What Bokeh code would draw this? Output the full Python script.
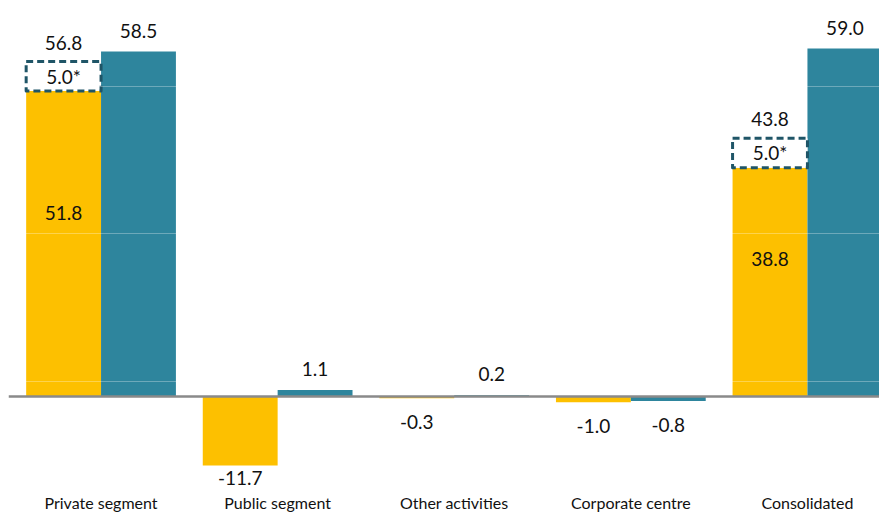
from bokeh.plotting import figure
from bokeh.models import ColumnDataSource, Span, FixedTicker
from bokeh.core.properties import value
from bokeh.embed import file_html
from bokeh.resources import INLINE

categories = ["Private segment", "Public segment", "Other activities", "Corporate centre", "Consolidated"]
series_yellow = [51.8, -11.7, -0.3, -1.0, 38.8]
series_teal = [58.5, 1.1, 0.2, -0.8, 59.0]
adjustment = [5.0, 0.0, 0.0, 0.0, 5.0]
grid_values = [2.6, 27.6, 52.6]

YELLOW = "#FDC000"
TEAL = "#2E859D"
DARK = "#1F5567"
FONT = "Lato"
TXT = "#111111"

xs = list(range(len(categories)))
bw = 0.424
off = bw / 2

p = figure(frame_width=871, frame_height=484, output_backend="svg", toolbar_location=None,
           x_range=(-0.524, 4.408), y_range=(-16.3, 65.8),
           min_border_left=8, min_border_right=0, min_border_top=8, min_border_bottom=0)
p.outline_line_color = None
p.yaxis.visible = False
p.xgrid.visible = False
p.ygrid.ticker = FixedTicker(ticks=grid_values)
p.ygrid.grid_line_color = "white"
p.ygrid.grid_line_alpha = 0.3
p.ygrid.level = "overlay"

xa = p.xaxis[0]
xa.ticker = FixedTicker(ticks=xs)
xa.major_label_overrides = {i: c for i, c in enumerate(categories)}
xa.axis_line_color = None
xa.major_tick_line_color = None
xa.minor_tick_line_color = None
xa.major_tick_out = 0
xa.major_tick_in = 0
xa.major_label_standoff = 0
xa.major_label_text_font = FONT
xa.major_label_text_font_size = "16px"
xa.major_label_text_color = TXT

# bars
ysrc = ColumnDataSource(dict(x=[x - off for x in xs], top=series_yellow))
tsrc = ColumnDataSource(dict(x=[x + off for x in xs], top=series_teal))
p.vbar(x="x", top="top", bottom=0, width=bw, source=ysrc, fill_color=YELLOW, line_color=None)
p.vbar(x="x", top="top", bottom=0, width=bw, source=tsrc, fill_color=TEAL, line_color=None)

# dashed adjustment boxes
bx, bb, bt, btxt = [], [], [], []
for i, (a, adj) in enumerate(zip(series_yellow, adjustment)):
    if adj > 0:
        bx.append(i - off); bb.append(a); bt.append(a + adj); btxt.append(f"{adj:.1f}*")
bsrc = ColumnDataSource(dict(x=bx, bottom=bb, top=bt, y=[(b + t) / 2 for b, t in zip(bb, bt)], text=btxt))
p.vbar(x="x", top="top", bottom="bottom", width=bw, source=bsrc, fill_color="white",
       line_color=DARK, line_width=3, line_dash="7 4", line_join="round")
p.text(x="x", y="y", text="text", source=bsrc, text_align="center", text_baseline="middle",
       text_font=value(FONT), text_font_size="19px", text_color=TXT)

# zero line
p.add_layout(Span(location=0, dimension="width", line_color="#8A8A8A", line_width=2.5))

# value labels
lx, ly, lt, lo = [], [], [], []
inx, iny, intxt = [], [], []
for i in xs:
    a, adj, t = series_yellow[i], adjustment[i], series_teal[i]
    if adj > 0:
        inx.append(i - off); iny.append(a * 0.6); intxt.append(f"{a:.1f}")
        tot = a + adj
        lx.append(i - off); ly.append(tot); lt.append(f"{tot:.1f}"); lo.append(-19)
    else:
        lx.append(i - off); ly.append(a); lt.append(f"{a:.1f}")
        lo.append(-21 if a >= 0 else (24 if abs(a) < 5 else 13))
    lx.append(i + off); ly.append(t); lt.append(f"{t:.1f}")
    lo.append(-21 if t >= 0 else (24 if abs(t) < 5 else 13))

lsrc = ColumnDataSource(dict(x=lx, y=ly, text=lt, yo=lo))
p.text(x="x", y="y", text="text", y_offset="yo", source=lsrc, text_align="center",
       text_baseline="middle", text_font=value(FONT), text_font_size="19px", text_color=TXT)
isrc = ColumnDataSource(dict(x=inx, y=iny, text=intxt))
p.text(x="x", y="y", text="text", source=isrc, text_align="center", text_baseline="middle",
       text_font=value(FONT), text_font_size="19px", text_color=TXT)

open("out.html", "w").write(file_html(p, INLINE))
